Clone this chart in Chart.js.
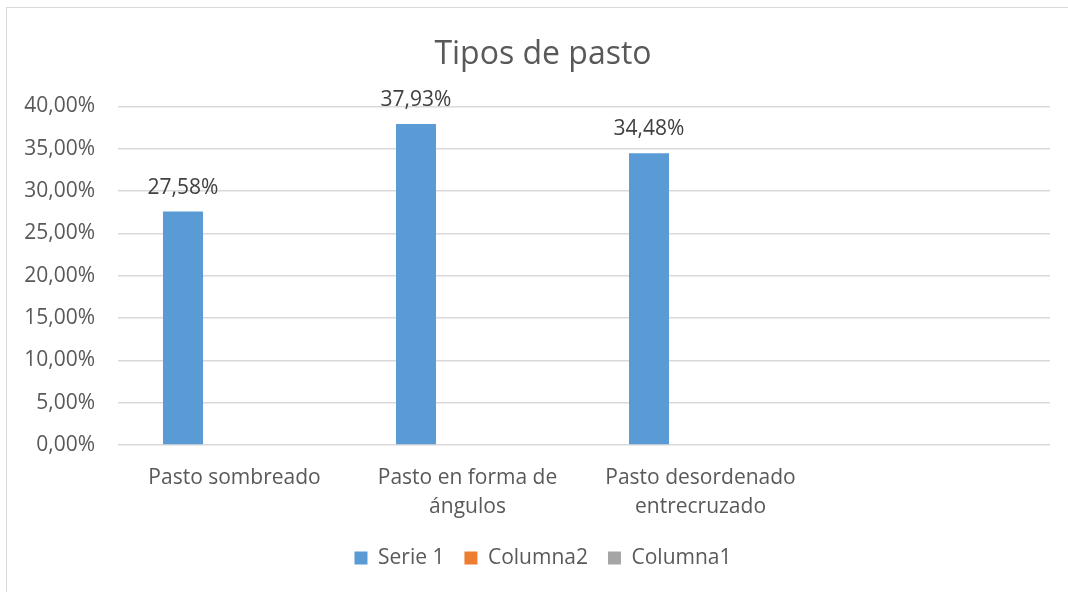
<!DOCTYPE html>
<html>
<head>
<meta charset="utf-8">
<script src="https://cdn.jsdelivr.net/npm/chart.js@4"></script>
<style>
  html, body { margin: 0; padding: 0; background: #fff; overflow: hidden; width: 1068px; height: 592px; }
  #frame { position: absolute; left: 6px; top: 7px; width: 1200px; height: 800px; border: 1.5px solid #d9d9d9; }
  #myChart { position: absolute; left: 0; top: 0; }
</style>
</head>
<body>
<div id="frame"></div>
<canvas id="myChart" width="1086" height="592"></canvas>
<script>
  var categories = ['Pasto sombreado', ['Pasto en forma de', 'ángulos'], ['Pasto desordenado', 'entrecruzado'], ''];
  var serie1 = [27.58, 37.93, 34.48, null];
  var columna2 = [null, null, null, null];
  var columna1 = [null, null, null, null];
  var yTicks = [0, 5, 10, 15, 20, 25, 30, 35, 40];

  var FONT = '"Open Sans", "Noto Sans", sans-serif';

  function pct(v) {
    return v.toFixed(2).replace('.', ',') + '%';
  }

  // data labels above the bars of the first series
  var barLabels = {
    id: 'barLabels',
    afterDatasetsDraw: function(chart) {
      var ctx = chart.ctx;
      var meta = chart.getDatasetMeta(0);
      ctx.save();
      ctx.font = '21px ' + FONT;
      ctx.fillStyle = '#404040';
      ctx.textAlign = 'center';
      ctx.textBaseline = 'middle';
      meta.data.forEach(function(bar, i) {
        var v = serie1[i];
        if (v === null) return;
        ctx.fillText(pct(v), bar.x, bar.y - 24);
      });
      ctx.restore();
    }
  };

  var ctx = document.getElementById('myChart').getContext('2d');
  var chart = new Chart(ctx, {
    type: 'bar',
    data: {
      labels: categories,
      datasets: [
        { label: 'Serie 1', data: serie1, backgroundColor: '#5b9bd5' },
        { label: 'Columna2', data: columna2, backgroundColor: '#ed7d31' },
        { label: 'Columna1', data: columna1, backgroundColor: '#a5a5a5' }
      ]
    },
    options: {
      responsive: false,
      animation: false,
      events: [],
      datasets: {
        bar: { categoryPercentage: 0.663, barPercentage: 0.777 }
      },
      layout: { padding: { left: 0, right: 0, top: 0, bottom: 13.5 } },
      scales: {
        x: {
          grid: { display: false, drawTicks: false },
          border: { display: false },
          ticks: {
            color: '#595959',
            font: { family: FONT, size: 21, lineHeight: 1.38 },
            padding: 19,
            maxRotation: 0,
            autoSkip: false
          },
          afterFit: function(scale) { scale.height = 82.5; }
        },
        y: {
          min: 0,
          max: 40,
          afterBuildTicks: function(scale) {
            scale.ticks = yTicks.map(function(v) { return { value: v }; });
          },
          grid: { color: '#d9d9d9', lineWidth: 1.5, drawTicks: false },
          border: { display: false },
          ticks: {
            color: '#595959',
            font: { family: FONT, size: 21 },
            padding: 23,
            callback: function(v) { return pct(v); }
          },
          afterFit: function(scale) { scale.width = 118; }
        },
        // empty right-hand spacer so title and legend centre like the original frame
        spacer: {
          type: 'linear',
          position: 'right',
          grid: { display: false, drawTicks: false },
          border: { display: false },
          ticks: { display: false },
          afterFit: function(scale) { scale.width = 36; }
        }
      },
      plugins: {
        title: {
          display: true,
          text: 'Tipos de pasto',
          color: '#595959',
          font: { family: FONT, size: 32, weight: 'normal' },
          padding: { top: 36, bottom: 32 }
        },
        legend: {
          position: 'bottom',
          labels: {
            color: '#595959',
            font: { family: FONT, size: 21 },
            boxWidth: 13,
            boxHeight: 13,
            padding: 20
          }
        },
        tooltip: { enabled: false }
      }
    },
    plugins: [barLabels]
  });
</script>
</body>
</html>
